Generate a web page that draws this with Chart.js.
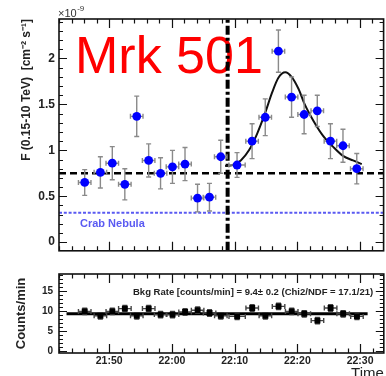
<!DOCTYPE html>
<html>
<head>
<meta charset="utf-8">
<script src="https://cdn.jsdelivr.net/npm/chart.js@4.4.1/dist/chart.umd.min.js"></script>
<style>
    html, body { margin: 0; padding: 0; background: #fff; overflow: hidden; }
    #fluxBox { position: absolute; left: 0; top: 0; width: 388px; height: 262px; }
    #bkgBox { position: absolute; left: 0; top: 262px; width: 388px; height: 124px; }
</style>
</head>
<body>
<div id="fluxBox"><canvas id="fluxChart"></canvas></div>
<div id="bkgBox"><canvas id="bkgChart"></canvas></div>
<script>
// bin centres in minutes after 21:00
const times   = [46.1, 48.6, 50.5, 52.5, 54.4, 56.3, 58.2, 60.1, 62.1, 64.1, 66.0,
                 67.8, 70.4, 72.8, 74.9, 77.0, 79.1, 81.1, 83.2, 85.3, 87.3, 89.5];
const timeErr = [1.0, 1.0, 1.0, 1.0, 1.0, 1.0, 1.0, 1.0, 1.0, 1.0, 1.0,
                 1.0, 1.3, 1.0, 1.0, 1.0, 1.0, 1.0, 1.0, 1.0, 1.0, 1.0];

// integral flux 0.15-10 TeV, units of 1e-9 cm^-2 s^-1
const flux    = [0.65, 0.76, 0.86, 0.63, 1.37, 0.89, 0.75, 0.82, 0.85, 0.48, 0.49,
                 0.93, 0.84, 1.10, 1.36, 2.08, 1.58, 1.39, 1.43, 1.10, 1.05, 0.80];
const fluxErr = [0.14, 0.17, 0.18, 0.17, 0.22, 0.18, 0.17, 0.18, 0.18, 0.15, 0.15,
                 0.18, 0.135, 0.19, 0.20, 0.23, 0.22, 0.21, 0.17, 0.19, 0.18, 0.165];

// flare fit
const fitTimes = [68.5, 69.7, 71.0, 72.3, 73.6, 74.9, 76.0, 77.0, 78.1, 79.1,
                  80.2, 81.2, 82.6, 84.1, 85.7, 87.3, 88.9, 90.3];
const fitFlux  = [0.83, 0.84, 0.89, 1.00, 1.18, 1.41, 1.63, 1.79, 1.85, 1.80,
                  1.67, 1.50, 1.32, 1.16, 1.04, 0.94, 0.89, 0.85];

const meanFlux = 0.75;
const crabFlux = 0.32;
const flareStart = 68.9;

// background rate, counts/min
const bkgRate = [10.0, 8.9, 10.0, 10.7, 8.9, 10.7, 9.2, 9.2, 9.85, 10.3, 9.6,
                 8.9, 8.75, 10.85, 8.9, 11.25, 10.0, 9.4, 7.7, 10.85, 9.4, 8.75];
const bkgErr  = [0.8, 0.8, 0.8, 0.8, 0.8, 0.8, 0.8, 0.8, 0.8, 0.8, 0.8,
                 0.8, 0.8, 0.8, 0.8, 0.8, 0.8, 0.8, 0.8, 0.8, 0.8, 0.8];
const bkgFit = 9.4;
const bkgFitRange = [43.2, 91.2];

const fluxTicks = [0, 0.5, 1, 1.5, 2];
const rateTicks = [0, 5, 10, 15];
const timeTicks = [50, 60, 70, 80, 90];
const timeLabels = ["21:50", "22:00", "22:10", "22:20", "22:30"];

const X_MIN = 42.0, X_MAX = 93.78;
const F_MIN = -0.094, F_MAX = 2.43;
const R_MIN = -0.4, R_MAX = 19.35;

Chart.defaults.font.family = "'Liberation Sans', Arial, sans-serif";
Chart.defaults.color = "#222";

const pts = (xs, ys) => xs.map((x, i) => ({ x, y: ys[i] }));

// ROOT-like frame with inward ticks on all four sides
const frameTicks = {
    id: "frameTicks",
    afterDraw(chart, args, o) {
        const { ctx, chartArea: a, scales: { x, y } } = chart;
        const isMajor = (v, m) => Math.abs(v / m - Math.round(v / m)) < 1e-6;
        ctx.save();
        ctx.strokeStyle = "#111";
        ctx.lineWidth = 1.2;
        ctx.beginPath();
        for (let v = Math.ceil(x.min / o.xMinor) * o.xMinor; v <= x.max; v += o.xMinor) {
            const px = Math.round(x.getPixelForValue(v)) + 0.5;
            const len = isMajor(v, o.xMajor) ? 9 : 4.5;
            ctx.moveTo(px, a.bottom); ctx.lineTo(px, a.bottom - len);
            ctx.moveTo(px, a.top); ctx.lineTo(px, a.top + len);
        }
        for (let v = Math.ceil(y.min / o.yMinor) * o.yMinor; v <= y.max; v += o.yMinor) {
            const py = Math.round(y.getPixelForValue(v)) + 0.5;
            const len = isMajor(v, o.yMajor) ? 8 : 4;
            ctx.moveTo(a.left, py); ctx.lineTo(a.left + len, py);
            ctx.moveTo(a.right, py); ctx.lineTo(a.right - len, py);
        }
        ctx.stroke();
        ctx.lineWidth = 1.6;
        ctx.strokeRect(a.left, a.top, a.right - a.left, a.bottom - a.top);
        ctx.restore();
    }
};

// error bars under the markers
const errorBars = {
    id: "errorBars",
    beforeDatasetDraw(chart, args) {
        const ds = chart.data.datasets[args.index];
        if (!ds.errY) return;
        const { ctx, scales: { x, y } } = chart;
        ctx.save();
        ctx.strokeStyle = ds.errColor;
        ctx.lineWidth = 1.4;
        ctx.beginPath();
        ds.data.forEach((p, i) => {
            const px = x.getPixelForValue(p.x), py = y.getPixelForValue(p.y);
            const x0 = x.getPixelForValue(p.x - ds.errX[i]), x1 = x.getPixelForValue(p.x + ds.errX[i]);
            const y0 = y.getPixelForValue(p.y - ds.errY[i]), y1 = y.getPixelForValue(p.y + ds.errY[i]);
            ctx.moveTo(px, y0); ctx.lineTo(px, y1);
            ctx.moveTo(px - 2.5, y0); ctx.lineTo(px + 2.5, y0);
            ctx.moveTo(px - 2.5, y1); ctx.lineTo(px + 2.5, y1);
            ctx.moveTo(x0, py); ctx.lineTo(x1, py);
            ctx.moveTo(x0, py - 2.5); ctx.lineTo(x0, py + 2.5);
            ctx.moveTo(x1, py - 2.5); ctx.lineTo(x1, py + 2.5);
        });
        ctx.stroke();
        ctx.restore();
    }
};

const fluxLabels = {
    id: "fluxLabels",
    beforeDatasetsDraw(chart) {
        const { ctx } = chart;
        ctx.save();
        ctx.fillStyle = "#ff0000";
        ctx.font = "52px 'Liberation Sans', Arial, sans-serif";
        ctx.fillText("Mrk 501", 75, 73);
        ctx.fillStyle = "#5a5af2";
        ctx.font = "bold 11px 'Liberation Sans', Arial, sans-serif";
        ctx.fillText("Crab Nebula", 80, 227);
        ctx.restore();
    },
    afterDraw(chart) {
        const { ctx } = chart;
        ctx.save();
        ctx.fillStyle = "#333";
        ctx.font = "11px 'Liberation Sans', Arial, sans-serif";
        ctx.fillText("\u00d710", 58, 17);
        const w = ctx.measureText("\u00d710").width;
        ctx.font = "8px 'Liberation Sans', Arial, sans-serif";
        ctx.fillText("-9", 58 + w + 0.5, 11);
        ctx.restore();
    }
};

const bkgLabel = {
    id: "bkgLabel",
    afterDraw(chart) {
        const { ctx } = chart;
        ctx.save();
        ctx.fillStyle = "#222";
        ctx.font = "bold 9.5px 'Liberation Sans', Arial, sans-serif";
        ctx.fillText("Bkg Rate [counts/min] = 9.4\u00b1 0.2 (Chi2/NDF = 17.1/21)", 133, 32.5);
        ctx.restore();
    }
};

new Chart(document.getElementById("fluxChart"), {
    type: "scatter",
    data: {
        datasets: [{
            data: pts(times, flux),
            errX: timeErr,
            errY: fluxErr,
            errColor: "#8a8a8a",
            pointRadius: 4.4,
            pointBackgroundColor: "#0000ff",
            pointBorderWidth: 0,
            order: 0
        }, {
            data: pts(fitTimes, fitFlux),
            showLine: true,
            borderColor: "#111",
            borderWidth: 2,
            cubicInterpolationMode: "monotone",
            pointRadius: 0,
            order: 1
        }, {
            data: pts([X_MIN, X_MAX], [meanFlux, meanFlux]),
            showLine: true,
            borderColor: "#000",
            borderWidth: 2.6,
            borderDash: [7, 4],
            pointRadius: 0,
            order: 2
        }, {
            data: pts([X_MIN, X_MAX], [crabFlux, crabFlux]),
            showLine: true,
            borderColor: "#5a5af2",
            borderWidth: 2,
            borderDash: [3, 1.8],
            pointRadius: 0,
            order: 3
        }, {
            data: pts([flareStart, flareStart], [F_MIN, F_MAX]),
            showLine: true,
            borderColor: "#000",
            borderWidth: 4,
            borderDash: [9, 3, 3, 3],
            pointRadius: 0,
            order: 2
        }]
    },
    options: {
        responsive: true,
        maintainAspectRatio: false,
        animation: false,
        events: [],
        layout: { padding: { left: 0, top: 19, right: 0, bottom: 9 } },
        plugins: {
            legend: { display: false },
            tooltip: { enabled: false },
            frameTicks: { xMinor: 2, xMajor: 10, yMinor: 0.1, yMajor: 0.5 }
        },
        scales: {
            x: { type: "linear", min: X_MIN, max: X_MAX, display: false },
            y: {
                min: F_MIN,
                max: F_MAX,
                grid: { display: false, drawTicks: false },
                border: { display: false },
                afterBuildTicks: s => { s.ticks = fluxTicks.map(v => ({ value: v })); },
                afterFit: s => { s.width = 59; },
                ticks: {
                    padding: 4,
                    color: "#222",
                    font: { size: 12, weight: "bold" },
                    callback: v => String(v)
                },
                title: {
                    display: true,
                    text: "F (0.15-10 TeV)  [cm\u207b\u00b2 s\u207b\u00b9]",
                    align: "end",
                    color: "#222",
                    font: { size: 12, weight: "bold" },
                    padding: { top: 19.5, bottom: 0 }
                }
            }
        }
    },
    plugins: [frameTicks, errorBars, fluxLabels]
});

new Chart(document.getElementById("bkgChart"), {
    type: "scatter",
    data: {
        datasets: [{
            data: pts(times, bkgRate),
            errX: timeErr,
            errY: bkgErr,
            errColor: "#444",
            pointStyle: "rect",
            pointRadius: 4.2,
            pointBackgroundColor: "#000",
            pointBorderWidth: 0,
            order: 0
        }, {
            data: pts(bkgFitRange, [bkgFit, bkgFit]),
            showLine: true,
            borderColor: "#000",
            borderWidth: 3,
            pointRadius: 0,
            order: 1
        }]
    },
    options: {
        responsive: true,
        maintainAspectRatio: false,
        animation: false,
        events: [],
        layout: { padding: { left: 0, top: 12, right: 0, bottom: 0 } },
        plugins: {
            legend: { display: false },
            tooltip: { enabled: false },
            frameTicks: { xMinor: 2, xMajor: 10, yMinor: 1, yMajor: 5 }
        },
        scales: {
            x: {
                type: "linear",
                min: X_MIN,
                max: X_MAX,
                grid: { display: false, drawTicks: false },
                border: { display: false },
                afterBuildTicks: s => { s.ticks = timeTicks.map(v => ({ value: v })); },
                afterFit: s => { s.height = 33; },
                ticks: {
                    padding: 2,
                    autoSkip: false,
                    maxRotation: 0,
                    color: "#222",
                    font: { size: 10.5, weight: "bold" },
                    callback: v => timeLabels[timeTicks.indexOf(v)]
                },
                title: {
                    display: true,
                    text: "Time",
                    align: "end",
                    color: "#222",
                    font: { size: 15 },
                    padding: { top: 0, bottom: 3 }
                }
            },
            y: {
                min: R_MIN,
                max: R_MAX,
                grid: { display: false, drawTicks: false },
                border: { display: false },
                afterBuildTicks: s => { s.ticks = rateTicks.map(v => ({ value: v })); },
                afterFit: s => { s.width = 59; },
                ticks: {
                    padding: 6,
                    color: "#222",
                    font: { size: 10, weight: "bold" }
                },
                title: {
                    display: true,
                    text: "Counts/min",
                    color: "#222",
                    font: { size: 13, weight: "bold" },
                    padding: { top: 14, bottom: 0 }
                }
            }
        }
    },
    plugins: [frameTicks, errorBars, bkgLabel]
});
</script>
</body>
</html>
